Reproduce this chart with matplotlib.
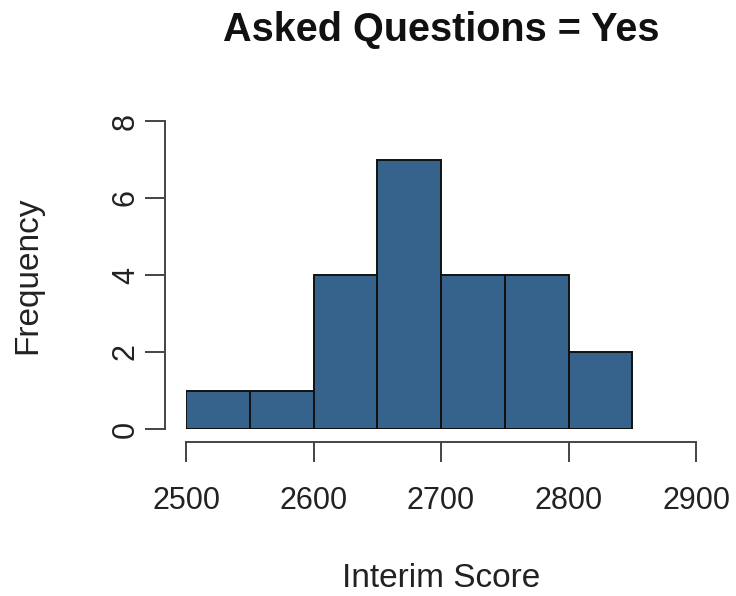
import matplotlib.pyplot as plt

plt.rcParams['font.family'] = ['Liberation Sans', 'DejaVu Sans']

# Histogram bins and counts
bin_edges = [2500, 2550, 2600, 2650, 2700, 2750, 2800, 2850]
counts = [1, 1, 4, 7, 4, 4, 2]
x_ticks = [2500, 2600, 2700, 2800, 2900]
y_ticks = [0, 2, 4, 6, 8]

W, H = 736, 596
fig = plt.figure(figsize=(W / 100, H / 100), dpi=100)
ax = fig.add_axes([186 / W, 167 / H, 510 / W, 308 / H])

lefts = bin_edges[:-1]
widths = [b - a for a, b in zip(bin_edges[:-1], bin_edges[1:])]
ax.bar(lefts, counts, width=widths, align='edge', color='#36638c',
       edgecolor='#111111', linewidth=1.4)

ax.set_xlim(2500, 2900)
ax.set_ylim(0, 8)
ax.set_xticks(x_ticks)
ax.set_yticks(y_ticks)

for s in ['top', 'right']:
    ax.spines[s].set_visible(False)
ax.spines['left'].set_position(('outward', 15))
ax.spines['bottom'].set_position(('outward', 9.5))
for s in ['left', 'bottom']:
    ax.spines[s].set_color('#444444')
    ax.spines[s].set_linewidth(1.4)
ax.spines['left'].set_bounds(0, 8)
ax.spines['bottom'].set_bounds(2500, 2900)

ax.tick_params(axis='both', length=14.5, width=1.4, color='#444444',
               labelsize=22, labelcolor='#222222')
ax.tick_params(axis='x', pad=17)
ax.tick_params(axis='y', pad=3)
plt.setp(ax.get_yticklabels(), rotation=90, va='center')

ax.set_xlabel('Interim Score', fontsize=24, color='#222222')
ax.xaxis.set_label_coords(0.5, -0.485)
ax.xaxis.label.set_va('center')
ax.set_ylabel('Frequency', fontsize=24, color='#222222')
ax.yaxis.set_label_coords(-0.31, 0.5)
ax.yaxis.label.set_va('center')

fig.text(441 / W, 1 - 30 / H, 'Asked Questions = Yes', fontsize=28.5,
         fontweight='bold', ha='center', va='center', color='#111111')

fig.savefig('out.png', dpi=100)
